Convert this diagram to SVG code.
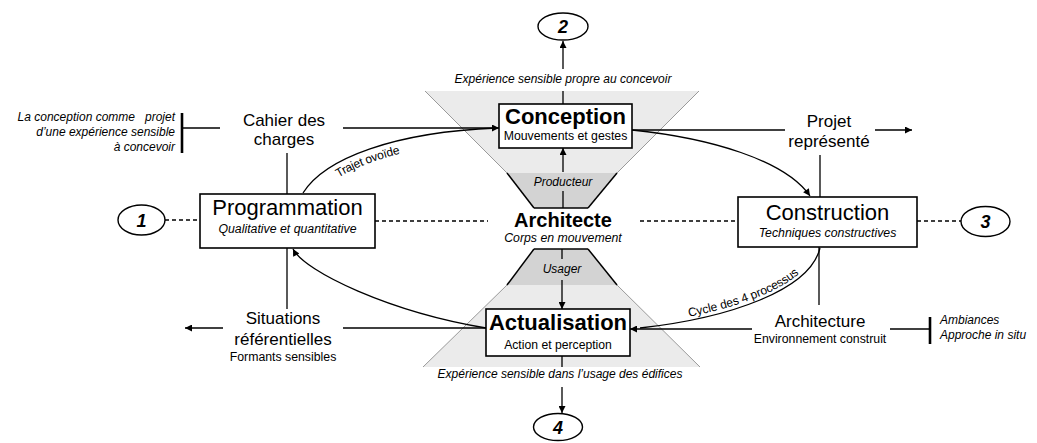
<svg xmlns="http://www.w3.org/2000/svg" width="1037" height="443" viewBox="0 0 1037 443">
<style>
text{font-family:"Liberation Sans",Arial,sans-serif;fill:#000}
.c{text-anchor:middle}
.r{text-anchor:end}
.it{font-style:italic}
.b{font-weight:bold}
.box{fill:#fff;stroke:#000;stroke-width:1.6}
.ln{fill:none;stroke:#000;stroke-width:1.3}
.dash{stroke-dasharray:4 3}
.bar{stroke:#000;stroke-width:2.6}
.light{fill:#ebebeb}
.dark{fill:#d3d3d3}
.edge{stroke:#9a9a9a;stroke-width:1;fill:none}
.edgeb{stroke:#000;stroke-width:1.5;fill:none}
.ell{fill:#fff;stroke:#000;stroke-width:1.4}
</style>
<defs>
<marker id="ah" viewBox="0 0 10 10" refX="10" refY="5" markerWidth="11" markerHeight="7" markerUnits="userSpaceOnUse" orient="auto"><path d="M0,0 L10,5 L0,10 z" fill="#000"/></marker>
<path id="pTrajet" d="M303,193 C325,158 395,132 499,128"/>
<path id="pCycle" d="M632,328 C730,318 810,290 820,248"/>
</defs>
<rect width="1037" height="443" fill="#fff"/>

<g id="funnels">
<polygon class="light" points="425,91 699,91 617,173 507,173"/>
<polygon class="dark" points="507,173 617,173 588,208 534,208"/>
<line class="edge" x1="425" y1="91" x2="507" y2="173"/>
<line class="edge" x1="699" y1="91" x2="617" y2="173"/>
<line class="edgeb" x1="507" y1="173" x2="534" y2="208"/>
<line class="edgeb" x1="617" y1="173" x2="588" y2="208"/>
<line class="edgeb" x1="534" y1="208" x2="588" y2="208"/>
<polygon class="dark" points="534,249 588,249 617,285 507,285"/>
<polygon class="light" points="507,285 617,285 700,367 423,367"/>
<line class="edgeb" x1="534" y1="249" x2="507" y2="285"/>
<line class="edgeb" x1="588" y1="249" x2="617" y2="285"/>
<line class="edgeb" x1="534" y1="249" x2="588" y2="249"/>
<line class="edge" x1="507" y1="285" x2="423" y2="367"/>
<line class="edge" x1="617" y1="285" x2="700" y2="367"/>
</g>

<g id="connectors">
<line class="ln" x1="563" y1="104" x2="563" y2="91"/>
<line class="ln" x1="563" y1="69" x2="563" y2="41" marker-end="url(#ah)"/>
<line class="ln" x1="563" y1="208" x2="563" y2="191"/>
<line class="ln" x1="563" y1="172" x2="563" y2="148" marker-end="url(#ah)"/>
<line class="ln" x1="562" y1="249" x2="562" y2="259"/>
<line class="ln" x1="562" y1="280" x2="562" y2="309" marker-end="url(#ah)"/>
<line class="ln" x1="562" y1="356" x2="562" y2="367"/>
<line class="ln" x1="562" y1="387" x2="562" y2="413" marker-end="url(#ah)"/>
<line class="ln dash" x1="165" y1="220" x2="200" y2="220"/>
<line class="ln dash" x1="375" y1="221" x2="488" y2="221"/>
<line class="ln dash" x1="640" y1="221" x2="738" y2="221"/>
<line class="ln dash" x1="917" y1="221" x2="961" y2="221"/>
<line class="bar" x1="182" y1="113" x2="182" y2="153"/>
<line class="ln" x1="182" y1="128" x2="220" y2="128"/>
<line class="ln" x1="343" y1="128" x2="499" y2="128" marker-end="url(#ah)"/>
<line class="ln" x1="287" y1="153" x2="287" y2="194"/>
<line class="ln" x1="287" y1="248" x2="287" y2="309"/>
<line class="ln" x1="223" y1="328" x2="185" y2="328" marker-end="url(#ah)"/>
<line class="ln" x1="343" y1="328" x2="486" y2="328"/>
<line class="ln" x1="632" y1="130" x2="785" y2="130"/>
<line class="ln" x1="875" y1="130" x2="912" y2="130" marker-end="url(#ah)"/>
<line class="ln" x1="820" y1="155" x2="820" y2="197"/>
<line class="ln" x1="819" y1="247" x2="819" y2="305"/>
<line class="ln" x1="752" y1="329" x2="630" y2="329" marker-end="url(#ah)"/>
<line class="ln" x1="890" y1="329" x2="930" y2="329"/>
<line class="bar" x1="930" y1="317" x2="930" y2="344"/>
<path class="ln" d="M303,193 C325,158 395,132 497,128"/>
<path class="ln" d="M632,130 C710,138 785,160 810,196" marker-end="url(#ah)"/>
<path class="ln" d="M820,248 C810,290 730,318 640,328"/>
<path class="ln" d="M486,328 C390,312 305,272 293,249" marker-end="url(#ah)"/>
<text font-size="12"><textPath href="#pTrajet" startOffset="40"><tspan dy="13">Trajet ovoïde</tspan></textPath></text>
<text font-size="12"><textPath href="#pCycle" startOffset="58"><tspan dy="-3">Cycle des 4 processus</tspan></textPath></text>
</g>

<g id="n-conception">
<rect class="box" x="499" y="104" width="133" height="44"/>
<text class="c b" x="565.5" y="124" font-size="22">Conception</text>
<text class="c" x="565.5" y="140" font-size="12.3">Mouvements et gestes</text>
</g>
<g id="n-actualisation">
<rect class="box" x="486" y="309" width="144" height="47"/>
<text class="c b" x="558" y="330" font-size="22">Actualisation</text>
<text class="c" x="558" y="349" font-size="12.2">Action et perception</text>
</g>
<g id="n-programmation">
<rect class="box" x="200" y="194" width="175" height="54"/>
<text class="c" x="287.5" y="215" font-size="22">Programmation</text>
<text class="c it" x="287.5" y="233" font-size="12.3">Qualitative et quantitative</text>
</g>
<g id="n-construction">
<rect class="box" x="738" y="197" width="179" height="50"/>
<text class="c" x="827.5" y="220" font-size="22">Construction</text>
<text class="c it" x="827.5" y="237" font-size="12.3">Techniques constructives</text>
</g>
<g id="n-architecte">
<text class="c b" x="563" y="227" font-size="20">Architecte</text>
<text class="c it" x="563" y="242" font-size="12.3">Corps en mouvement</text>
</g>
<g id="n-producteur"><text class="c it" x="563" y="186" font-size="12">Producteur</text></g>
<g id="n-usager"><text class="c it" x="562" y="273" font-size="12">Usager</text></g>
<g id="n-exp-top"><text class="c it" x="563" y="83" font-size="12">Expérience sensible propre au concevoir</text></g>
<g id="n-exp-bottom"><text class="c it" x="560" y="378" font-size="12">Expérience sensible dans l’usage des édifices</text></g>

<g id="n-1"><ellipse class="ell" cx="141.5" cy="220" rx="23.5" ry="15"/><text class="c b it" x="141.5" y="227" font-size="18">1</text></g>
<g id="n-2"><ellipse class="ell" cx="563" cy="26.5" rx="25" ry="13.5"/><text class="c b it" x="563" y="33" font-size="18">2</text></g>
<g id="n-3"><ellipse class="ell" cx="985.5" cy="221.5" rx="24.5" ry="15"/><text class="c b it" x="985.5" y="228" font-size="18">3</text></g>
<g id="n-4"><ellipse class="ell" cx="558" cy="427" rx="24.5" ry="13.5"/><text class="c b it" x="558" y="433.5" font-size="18">4</text></g>

<g id="n-cahier">
<text class="c" x="284" y="126" font-size="17">Cahier des</text>
<text class="c" x="284" y="145" font-size="17">charges</text>
</g>
<g id="n-note-left">
<text class="r it" x="175" y="121" font-size="12" style="white-space:pre">La conception comme   projet</text>
<text class="r it" x="175" y="136" font-size="12">d’une expérience sensible</text>
<text class="r it" x="175" y="151" font-size="12">à concevoir</text>
</g>
<g id="n-situations">
<text class="c" x="283" y="324" font-size="17">Situations</text>
<text class="c" x="283" y="345" font-size="17">référentielles</text>
<text class="c" x="283" y="361" font-size="12.3">Formants sensibles</text>
</g>
<g id="n-projet">
<text class="c" x="829" y="127" font-size="17">Projet</text>
<text class="c" x="829" y="147" font-size="17">représenté</text>
</g>
<g id="n-architecture">
<text class="c" x="820" y="327" font-size="17">Architecture</text>
<text class="c" x="820" y="343" font-size="12.3">Environnement construit</text>
</g>
<g id="n-note-right">
<text class="it" x="940" y="324" font-size="12">Ambiances</text>
<text class="it" x="940" y="339" font-size="12">Approche in situ</text>
</g>
</svg>
